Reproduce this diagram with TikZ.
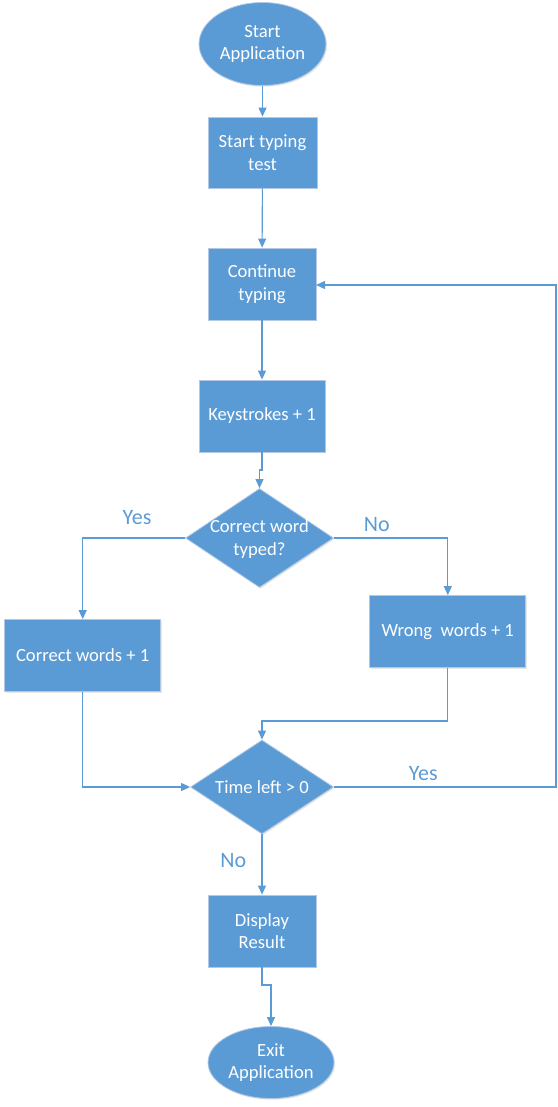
\documentclass[tikz,border=0pt]{standalone}
\usepackage{fontspec}
\setmainfont{Carlito}
\usetikzlibrary{shapes.geometric,arrows.meta,shadows}
\definecolor{obl}{RGB}{91,155,213}
\definecolor{oedge}{RGB}{178,200,228}
\begin{document}
\begin{tikzpicture}[x=1pt,y=-1pt,
  shp/.style={fill=obl,draw=oedge,line width=0.8pt,inner sep=0pt,
    text=white,font=\fontsize{18.6}{22.5}\selectfont,align=center,
    drop shadow={opacity=0.18,shadow xshift=1.2pt,shadow yshift=-1.2pt}},
  boxn/.style={shp,rectangle},
  ovaln/.style={shp,ellipse},
  diam/.style={shp,diamond},
  dtext/.style={text=white,font=\fontsize{18.6}{22.5}\selectfont,align=center,inner sep=0pt},
  lbl/.style={text=obl,font=\fontsize{22}{26}\selectfont,inner sep=0pt},
  conn/.style={draw=obl,line width=1.1pt,-{Triangle[width=8pt,length=9pt]}}
]
\useasboundingbox (0,0) rectangle (557,1107);

\node[ovaln,minimum width=127pt,minimum height=83pt] (start) at (262.5,44) {Start\\Application};
\node[boxn,minimum width=109pt,minimum height=71pt] (s1) at (262.5,152.5) {Start typing\\test};
\node[boxn,minimum width=108pt,minimum height=72pt] (s2) at (262,284) {Continue\\typing};
\node[boxn,minimum width=126pt,minimum height=72pt] (s3) at (262,416) {Keystrokes + 1};
\node[diam,minimum width=148pt,minimum height=99pt] (d1) at (259.5,538) {};
\node[dtext] (d1t) at (259.5,539) {Correct word\\typed?};
\node[boxn,minimum width=156pt,minimum height=72pt] (cw) at (82.7,655.5) {Correct words + 1};
\node[boxn,minimum width=156pt,minimum height=72pt] (ww) at (447.8,631.5) {Wrong\ \ words + 1};
\node[diam,minimum width=143pt,minimum height=94pt] (d2) at (262,787) {};
\node[dtext] (d2t) at (262,787) {Time left > 0};
\node[boxn,minimum width=108pt,minimum height=72pt] (disp) at (262,931) {Display\\Result};
\node[ovaln,minimum width=126pt,minimum height=72pt] (exit) at (271,1062.5) {Exit\\Application};

\coordinate (j1a) at (262,470);
\coordinate (j1b) at (259.5,470);
\coordinate (yl) at (82.7,538);
\coordinate (nr) at (447.8,538);
\coordinate (cwb) at (82.7,787);
\coordinate (wwb) at (447.8,721);
\coordinate (wwc) at (262,721);
\coordinate (lpa) at (556,787);
\coordinate (lpb) at (556,285);
\coordinate (s2e) at (316,285);
\coordinate (j2a) at (262,985);
\coordinate (j2b) at (271,985);

\draw[conn] (start) -- (s1);
\draw[conn] (s1) -- (s2);
\draw[conn] (s2) -- (s3);
\draw[conn] (s3.south) -- (j1a) -- (j1b) -- (d1.north);
\draw[conn] (d1.west) -- (yl) -- (cw.north);
\draw[conn] (d1.east) -- (nr) -- (ww.north);
\draw[conn] (cw.south) -- (cwb) -- (d2.west);
\draw[conn] (ww.south) -- (wwb) -- (wwc) -- (d2.north);
\draw[conn] (d2.east) -- (lpa) -- (lpb) -- (s2e);
\draw[conn] (d2.south) -- (disp.north);
\draw[conn] (disp.south) -- (j2a) -- (j2b) -- (exit.north);

\node[lbl] (ly1) at (137,518) {Yes};
\node[lbl] (ln1) at (376.7,525) {No};
\node[lbl] (ly2) at (423.3,774) {Yes};
\node[lbl] (ln2) at (233.3,861) {No};
\end{tikzpicture}
\end{document}
